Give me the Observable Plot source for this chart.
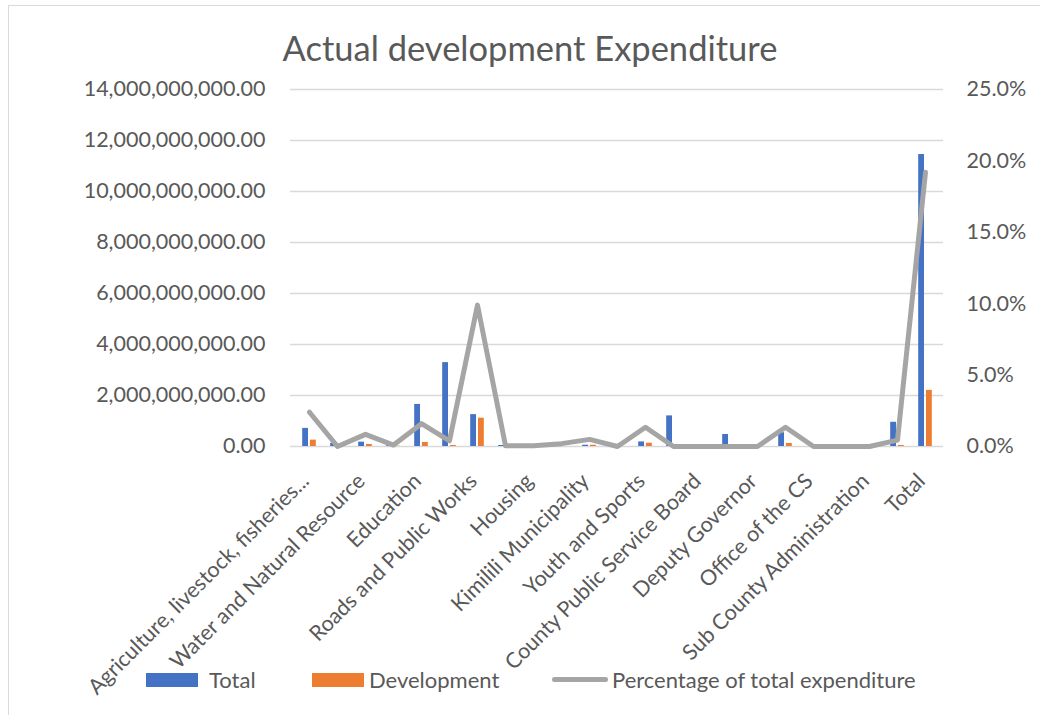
<!DOCTYPE html>
<html>
<head>
<meta charset="utf-8">
<script src="https://cdn.jsdelivr.net/npm/d3@7"></script>
<script src="https://cdn.jsdelivr.net/npm/@observablehq/plot@0.6"></script>
<style>
  html, body { margin: 0; padding: 0; background: #fff; }
  #wrap { position: relative; width: 1040px; height: 715px; overflow: hidden; font-family: Lato, "Open Sans", sans-serif; color: #595959; }
  #frame { position: absolute; left: 8px; top: 5px; width: 1100px; height: 800px; border: 1px solid #d9d9d9; box-sizing: border-box; }
  #title { position: absolute; left: 0; width: 1060px; top: 27px; text-align: center; font-size: 34.5px; line-height: 42px; }
  #chart { position: absolute; left: 0; top: 0; }
  .leg { position: absolute; top: 667px; font-size: 22px; line-height: 26px; white-space: nowrap; }
  .sw { position: absolute; }
</style>
</head>
<body>
<div id="wrap">
  <div id="frame"></div>
  <div id="chart"></div>
  <div id="title">Actual development Expenditure</div>
  <div id="legend"></div>
</div>
<script>
// Categories (every other one is labelled on the axis, as in the reference)
const categories = [
  "Agriculture, livestock, fisheries...",
  "Trade, Energy and Industrialization",
  "Water and Natural Resource",
  "Lands, Urban and Physical Planning",
  "Education",
  "Health and Sanitation",
  "Roads and Public Works",
  "Finance and Economic Planning",
  "Housing",
  "Bungoma Municipality",
  "Kimilili Municipality",
  "Gender and Culture",
  "Youth and Sports",
  "Public Administration",
  "County Public Service Board",
  "Governor",
  "Deputy Governor",
  "County Attorney",
  "Office of the CS",
  "County Assembly",
  "Sub County Administration",
  "Public Service Management",
  "Total"
];
const labelledCategories = categories.filter((d, i) => i % 2 === 0);

const totalValues = [
  0.71e9, 0.12e9, 0.17e9, 0.05e9, 1.65e9, 3.29e9, 1.25e9, 0.04e9, 0.01e9, 0.0, 0.05e9, 0.0,
  0.18e9, 1.20e9, 0.0, 0.47e9, 0.0, 0.54e9, 0.0, 0.0, 0.0, 0.95e9, 11.45e9
];
const developmentValues = [
  0.25e9, 0.02e9, 0.08e9, 0.01e9, 0.16e9, 0.04e9, 1.11e9, 0.0, 0.0, 0.0, 0.05e9, 0.0,
  0.13e9, 0.0, 0.0, 0.0, 0.0, 0.12e9, 0.0, 0.0, 0.0, 0.04e9, 2.20e9
];
const percentValues = [
  2.4, 0.0, 0.85, 0.1, 1.6, 0.4, 9.9, 0.05, 0.05, 0.2, 0.5, 0.0,
  1.35, 0.0, 0.0, 0.0, 0.0, 1.35, 0.0, 0.0, 0.0, 0.45, 19.2
];

const leftTicks = [0, 2e9, 4e9, 6e9, 8e9, 10e9, 12e9, 14e9];
const rightTickLabels = [0, 5, 10, 15, 20, 25]; // percent
const yMax = 14e9, pMax = 25;

const seriesNames = ["Total", "Development", "Percentage of total expenditure"];
const colors = ["#4472C4", "#ED7D31", "#A5A5A5"];

const rows = categories.map((c, i) => ({
  category: c, total: totalValues[i], development: developmentValues[i],
  pctScaled: percentValues[i] / pMax * yMax
}));

const W = 1040, H = 715;
const mL = 290, mR = W - 943, mT = 89, mB = H - 446;
const band = (W - mL - mR) / categories.length;
const half = band / 2;

const chart = Plot.plot({
  width: W, height: H,
  marginLeft: mL, marginRight: mR, marginTop: mT, marginBottom: mB,
  style: { fontFamily: "Lato, 'Open Sans', sans-serif", fontSize: "21.5px", color: "#595959", background: "transparent" },
  x: { type: "band", domain: categories, padding: 0 },
  y: { domain: [0, yMax] },
  marks: [
    Plot.gridY(leftTicks, { stroke: "#d9d9d9", strokeOpacity: 1, strokeWidth: 1.3 }),
    Plot.barY(rows, { x: "category", y: "total", fill: colors[0], insetLeft: half - 7, insetRight: half + 0.8 }),
    Plot.barY(rows, { x: "category", y: "development", fill: colors[1], insetLeft: half + 0.8, insetRight: half - 7 }),
    Plot.line(rows, { x: "category", y: "pctScaled", stroke: colors[2], strokeWidth: 5, strokeLinejoin: "round", strokeLinecap: "round" }),
    Plot.axisY(leftTicks, { anchor: "left", tickSize: 0, tickPadding: 25, tickFormat: d3.format(",.2f"), label: null, fill: "#595959" }),
    Plot.axisY(rightTickLabels.map(p => p / pMax * yMax), { anchor: "right", tickSize: 0, tickPadding: 23, tickFormat: d => (d / yMax * pMax).toFixed(1) + "%", label: null, fill: "#595959" }),
    Plot.axisX(labelledCategories, { tickSize: 0, tickPadding: 31, tickRotate: -45, dx: -4, label: null, fill: "#595959" })
  ]
});
document.getElementById("chart").appendChild(chart);

// Legend
const legend = document.getElementById("legend");
const legendItems = [
  { name: seriesNames[0], color: colors[0], type: "rect", sx: 146, tx: 209 },
  { name: seriesNames[1], color: colors[1], type: "rect", sx: 312, tx: 369 },
  { name: seriesNames[2], color: colors[2], type: "line", sx: 552, tx: 612 }
];
legendItems.forEach(it => {
  const sw = document.createElement("div");
  sw.className = "sw";
  if (it.type === "rect") {
    Object.assign(sw.style, { left: it.sx + "px", top: "673px", width: "52px", height: "14px", background: it.color });
  } else {
    Object.assign(sw.style, { left: it.sx + "px", top: "677px", width: "56px", height: "5px", background: it.color, borderRadius: "3px" });
  }
  legend.appendChild(sw);
  const t = document.createElement("div");
  t.className = "leg";
  t.style.left = it.tx + "px";
  t.textContent = it.name;
  legend.appendChild(t);
});
</script>
</body>
</html>
